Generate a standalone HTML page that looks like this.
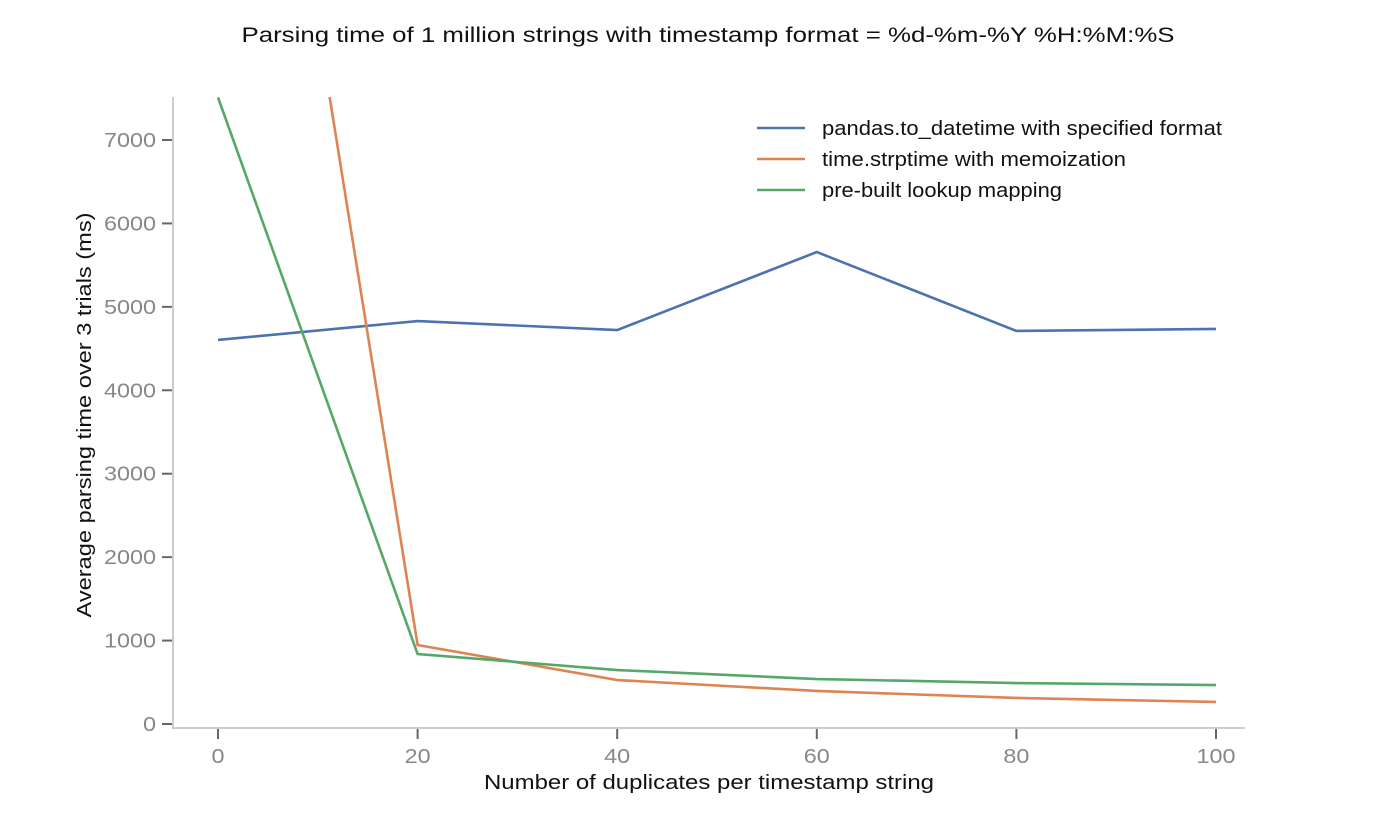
<!DOCTYPE html>
<html><head><meta charset="utf-8"><style>
body{margin:0;background:#fff}
svg{font-family:"Liberation Sans",sans-serif}
</style></head><body>
<svg id="chart" width="1382" height="819">
<text x="708" y="42" text-anchor="middle" font-size="21" fill="#111" textLength="933" lengthAdjust="spacingAndGlyphs">Parsing time of 1 million strings with timestamp format = %d-%m-%Y %H:%M:%S</text>
<defs><clipPath id="clip"><rect x="174" y="97" width="1072" height="631"/></clipPath></defs>
<line x1="173" y1="97" x2="173" y2="729" stroke="#ccc" stroke-width="2"/>
<line x1="172" y1="728" x2="1245" y2="728" stroke="#ccc" stroke-width="2"/>
<g id="ticks"></g>
<g id="lines" clip-path="url(#clip)"></g>
<text transform="translate(91,415) rotate(-90)" text-anchor="middle" font-size="20" fill="#111" textLength="405" lengthAdjust="spacingAndGlyphs">Average parsing time over 3 trials (ms)</text>
<text x="709" y="789" text-anchor="middle" font-size="20" fill="#111" textLength="450" lengthAdjust="spacingAndGlyphs">Number of duplicates per timestamp string</text>
<g id="legend"></g>
</svg>
<script>
const categories=[0,20,40,60,80,100];
const pandasVals=[4603,4830,4722,5657,4711,4735];
const memoVals=[15850,947,527,396,312,264];
const lookupVals=[7510,839,647,539,491,467];
const yTicks=[0,1000,2000,3000,4000,5000,6000,7000];
const xTicks=[0,20,40,60,80,100];
const seriesNames=["pandas.to_datetime with specified format","time.strptime with memoization","pre-built lookup mapping"];
const legendWidths=[400,304,240];
const colors=["#4c72b0","#dd8452","#55a868"];
const NS="http://www.w3.org/2000/svg";
function xs(v){return 218+v*9.98;}
function ys(v){return 724-v*0.08343;}
function mk(tag,attrs,parent){const e=document.createElementNS(NS,tag);for(const k in attrs)e.setAttribute(k,attrs[k]);parent.appendChild(e);return e;}
const tg=document.getElementById('ticks');
yTicks.forEach(t=>{
 const l=mk('line',{x1:162,x2:172,y1:ys(t),y2:ys(t),stroke:'#666','stroke-width':2},tg);
 
 
 const s=String(t);
 const tx=mk('text',{x:156,y:ys(t)+7,'text-anchor':'end','font-size':20,fill:'#888',textLength:s.length*13,lengthAdjust:'spacingAndGlyphs'},tg);
 tx.textContent=s;
 
 
});
xTicks.forEach(t=>{
 const l=mk('line',{x1:xs(t),x2:xs(t),y1:729,y2:739,stroke:'#666','stroke-width':2},tg);
 
 
 const s=String(t);
 const tx=mk('text',{x:xs(t),y:763,'text-anchor':'middle','font-size':20,fill:'#888',textLength:s.length*13,lengthAdjust:'spacingAndGlyphs'},tg);
 tx.textContent=s;
 
 
});
const lg=document.getElementById('lines');
[pandasVals,memoVals,lookupVals].forEach((vals,i)=>{
 const p=mk('polyline',{points:vals.map((v,j)=>xs(categories[j])+','+ys(v)).join(' '),fill:'none',stroke:colors[i],'stroke-width':2.6},lg);
 
 
});
const leg=document.getElementById('legend');
seriesNames.forEach((n,i)=>{
 const y=128+i*31;
 const l=mk('line',{x1:757,x2:805,y1:y,y2:y,stroke:colors[i],'stroke-width':2.6},leg);
 
 
 const t=mk('text',{x:822,y:y+7,'font-size':20,fill:'#111',textLength:legendWidths[i],lengthAdjust:'spacingAndGlyphs'},leg);
 t.textContent=n;
 
 
});
</script>
</body></html>
